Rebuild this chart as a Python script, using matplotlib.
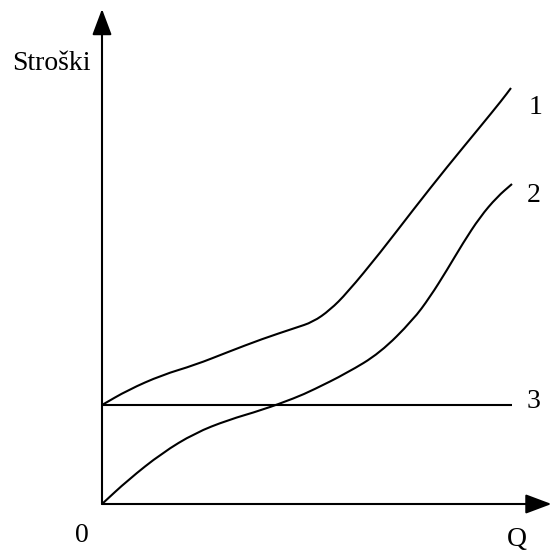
import matplotlib
matplotlib.use("Agg")
import matplotlib.pyplot as plt
from matplotlib.path import Path
from matplotlib.patches import PathPatch

# Cost curves (Q on x, costs on y)
q1 = [0, 26, 60, 93, 126, 160, 193, 211, 228, 245, 278, 311, 345, 378, 400, 409]
c1 = [99, 114, 129, 139, 152, 165, 176, 182, 194, 211, 251, 294, 337, 377, 404, 416]

q2 = [0, 26, 60, 93, 126, 160, 193, 211, 245, 278, 311, 328, 345, 361, 378, 395, 410]
c2 = [0, 24, 51, 71, 84, 94, 106, 114, 131, 151, 184, 207, 234, 261, 287, 307, 320]

q3 = [0, 410]
c3 = [99, 99]

curve_labels = ["1", "2", "3"]
label_pos = [(434, 397), (432, 309), (432, 102)]

plt.rcParams['font.family'] = ['Liberation Serif', 'DejaVu Serif']


def smooth_path(xs, ys):
    # quadratic bezier through the midpoints, read points act as controls
    pts = list(zip(xs, ys))
    if len(pts) < 3:
        return Path(pts)
    verts = [pts[0]]
    codes = [Path.MOVETO]
    mid = lambda a, b: ((a[0] + b[0]) / 2, (a[1] + b[1]) / 2)
    verts.append(mid(pts[0], pts[1]))
    codes.append(Path.LINETO)
    for i in range(1, len(pts) - 1):
        verts += [pts[i], mid(pts[i], pts[i + 1])]
        codes += [Path.CURVE3, Path.CURVE3]
    verts.append(pts[-1])
    codes.append(Path.LINETO)
    return Path(verts, codes)


fig = plt.figure(figsize=(5.52, 5.57), dpi=100)
ax = fig.add_axes([0, 0, 1, 1])
ax.set_xlim(-102, 450)
ax.set_ylim(-53, 504)
ax.axis('off')

lw = 1.5
for q, c in [(q1, c1), (q2, c2), (q3, c3)]:
    ax.add_patch(PathPatch(smooth_path(q, c), facecolor='none', edgecolor='black',
                           lw=lw, capstyle='butt', joinstyle='round'))

# axes with arrows
arrow = dict(arrowstyle='-|>,head_length=0.8,head_width=0.3', mutation_scale=20,
             lw=lw, color='black', shrinkA=0, shrinkB=0)
ax.annotate('', xy=(449.5, 0), xytext=(0, 0), arrowprops=arrow)
ax.annotate('', xy=(0, 495), xytext=(0, 0), arrowprops=arrow)

fs = 20
ax.text(-51, 441, "Stroški", fontsize=fs, ha='center', va='center')
ax.text(-20, -31, "0", fontsize=fs, ha='center', va='center')
ax.text(415, -35, "Q", fontsize=fs, ha='center', va='center')
for lab, (x, y) in zip(curve_labels, label_pos):
    ax.text(x, y, lab, fontsize=fs, ha='center', va='center')

fig.savefig("out.png", dpi=100)
